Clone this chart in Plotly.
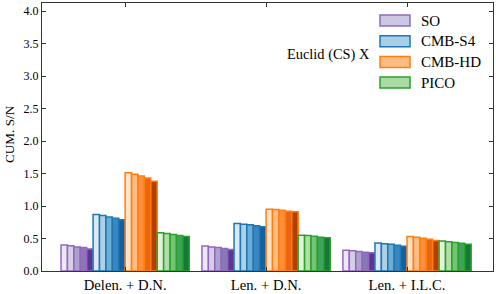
import plotly.graph_objects as go

categories = ["Delen. + D.N.", "Len. + D.N.", "Len. + I.L.C."]
experiments = ["SO", "CMB-S4", "CMB-HD", "PICO"]

# cumulative S/N, 5 sub-bars per experiment, per category
so_vals = [[0.40, 0.39, 0.37, 0.36, 0.34],
           [0.385, 0.37, 0.36, 0.345, 0.33],
           [0.32, 0.31, 0.30, 0.29, 0.28]]
s4_vals = [[0.87, 0.855, 0.83, 0.81, 0.79],
           [0.73, 0.72, 0.71, 0.695, 0.68],
           [0.43, 0.42, 0.41, 0.395, 0.38]]
hd_vals = [[1.51, 1.49, 1.46, 1.43, 1.38],
           [0.95, 0.945, 0.935, 0.92, 0.91],
           [0.53, 0.52, 0.505, 0.49, 0.47]]
pico_vals = [[0.59, 0.575, 0.56, 0.545, 0.53],
             [0.55, 0.545, 0.535, 0.52, 0.51],
             [0.46, 0.45, 0.44, 0.425, 0.41]]

edge_colors = ["#9467bd", "#1f77b4", "#ff7f0e", "#2ca02c"]
shade_colors = [
    ["#ece9f4", "#d3d0e7", "#aba3cd", "#8878b8", "#5c3596"],
    ["#dbe9f6", "#aed1e7", "#6baed6", "#3a86c0", "#15609f"],
    ["#fee3c8", "#fdbd85", "#fd8e3d", "#ec6410", "#b43f04"],
    ["#e2f3dd", "#b0dea6", "#74c476", "#3ea45a", "#137a3a"],
]
legend_fill = ["#cbc8e3", "#a9cfe7", "#fdbc83", "#a8dca2"]

all_vals = [so_vals, s4_vals, hd_vals, pico_vals]

fig = go.Figure()
for e, vals in enumerate(all_vals):
    for k in range(5):
        fig.add_trace(go.Bar(
            x=categories,
            y=[vals[c][k] for c in range(3)],
            marker=dict(color=shade_colors[e][k],
                        line=dict(color=edge_colors[e], width=1.5)),
            showlegend=False,
            name=f"{experiments[e]} {k}",
        ))

font_family = "Liberation Serif, Times New Roman, serif"

fig.update_layout(
    barmode="group",
    bargap=0.09,
    bargroupgap=0.0,
    width=496, height=294,
    margin=dict(l=42, r=3, t=3, b=23),
    paper_bgcolor="white",
    plot_bgcolor="white",
    font=dict(family=font_family, size=13, color="#000"),
    xaxis=dict(
        range=[-0.59, 2.61],
        showline=True, mirror="allticks", linecolor="#333", linewidth=1,
        ticks="inside", ticklen=4, tickcolor="#333",
        tickfont=dict(size=14.7, family=font_family, color="#000"),
        showgrid=False, zeroline=False, automargin=False,
    ),
    yaxis=dict(
        range=[0, 4.123],
        tickvals=[0, 0.5, 1.0, 1.5, 2.0, 2.5, 3.0, 3.5, 4.0],
        ticktext=["0.0", "0.5", "1.0", "1.5", "2.0", "2.5", "3.0", "3.5", "4.0"],
        showline=True, mirror="allticks", linecolor="#333", linewidth=1,
        ticks="inside", ticklen=4, tickcolor="#333",
        tickfont=dict(size=12, family=font_family, color="#000"),
        showgrid=False, zeroline=False, automargin=False,
    ),
)

def px2x(px):
    return (px - 42) / 451

def py2y(py):
    return (271 - py) / 268

fig.add_annotation(xref="paper", yref="paper", x=px2x(9), y=py2y(134),
                   text="CUM. S/N", showarrow=False, textangle=-90,
                   xanchor="center", yanchor="middle",
                   font=dict(size=13.2, family=font_family, color="#000"))

# custom legend (patches + labels) in paper coordinates
for i, name in enumerate(experiments):
    yc = 20.5 + i * 20.7
    fig.add_shape(type="rect", xref="paper", yref="paper",
                  x0=px2x(380), x1=px2x(410), y0=py2y(yc + 5.5), y1=py2y(yc - 5.5),
                  fillcolor=legend_fill[i], line=dict(color=edge_colors[i], width=1.5))
    fig.add_annotation(xref="paper", yref="paper", x=px2x(419), y=py2y(yc),
                       text=name, showarrow=False, xanchor="left", yanchor="middle",
                       font=dict(size=15, family=font_family, color="#000"))

fig.add_annotation(xref="paper", yref="paper", x=px2x(372), y=py2y(54),
                   text="Euclid (CS) X", showarrow=False, xanchor="right", yanchor="middle",
                   font=dict(size=14.4, family=font_family, color="#000"))

fig.write_html("out.html", config={"displayModeBar": False},
               post_script="document.body.style.margin='0';")
